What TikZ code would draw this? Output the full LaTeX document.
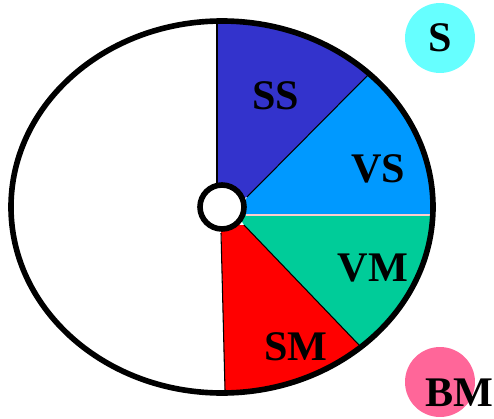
\documentclass[tikz,border=0pt]{standalone}
\usepackage{fontspec}
\setmainfont{Liberation Serif}
\definecolor{ssblue}{HTML}{3333CC}
\definecolor{vsblue}{HTML}{0099FF}
\definecolor{vmgreen}{HTML}{00CC99}
\definecolor{smred}{HTML}{FF0000}
\definecolor{scyan}{HTML}{66FFFF}
\definecolor{bmpink}{HTML}{FF6699}
\definecolor{seam}{HTML}{FFCCCC}
\tikzstyle{tag} = [font=\bfseries\fontsize{24}{24}\selectfont, inner sep=0pt]
\tikzstyle{divider} = [line width=0.6pt, draw=black]
\tikzstyle{bubble} = [circle, minimum size=1.4cm, inner sep=0pt]
\tikzstyle{rim} = [line width=3.2pt, draw=black]

\begin{document}
\begin{tikzpicture}[x=0.02cm, y=-0.02cm]
        \useasboundingbox (0,0) rectangle (494,419);

            % Sectors, clipped to the ellipse
        \begin{scope}
            \clip (222,207) ellipse [x radius=211, y radius=186];
            \fill[ssblue] (217,-20) -- (217,207) -- (247,197) -- (430,13) -- (430,-20) -- cycle;
            \fill[vsblue] (238,215) -- (247,197) -- (430,13) -- (470,13) -- (470,215) -- cycle;
            \fill[vmgreen] (238,215) -- (470,215) -- (470,440) -- (450,440) -- (244,225) -- cycle;
            \fill[smred] (244,225) -- (450,440) -- (226,440) -- (221,225) -- cycle;
        \end{scope}

            % Sector edges
        \draw[divider] (217,21) -- (217,200);
        \draw[divider] (247,197) -- (368,75);
        \draw[divider, draw=seam] (246,215) -- (432,215);
        \draw[divider] (244,225) -- (359,345);
        \draw[divider] (221,233) -- (225,390);

        \draw[rim] (222,207) ellipse [x radius=211, y radius=186];
        \node (hub) [circle, rim, fill=white, minimum size=0.88cm, inner sep=0pt] at (222,207) {};

        \node (ss) [tag] at (276,96) {SS};
        \node (vs) [tag] at (378,169) {VS};
        \node (vm) [tag] at (373,268) {VM};
        \node (sm) [tag] at (296,347) {SM};

        \node (sdot) [bubble, tag, fill=scyan, minimum size=1.4cm] at (440,38) {S};
        \node (bmdot) [bubble, fill=bmpink] at (440,382) {};
        \node (bm) [tag] at (459,393) {BM};
    \end{tikzpicture}
\end{document}
